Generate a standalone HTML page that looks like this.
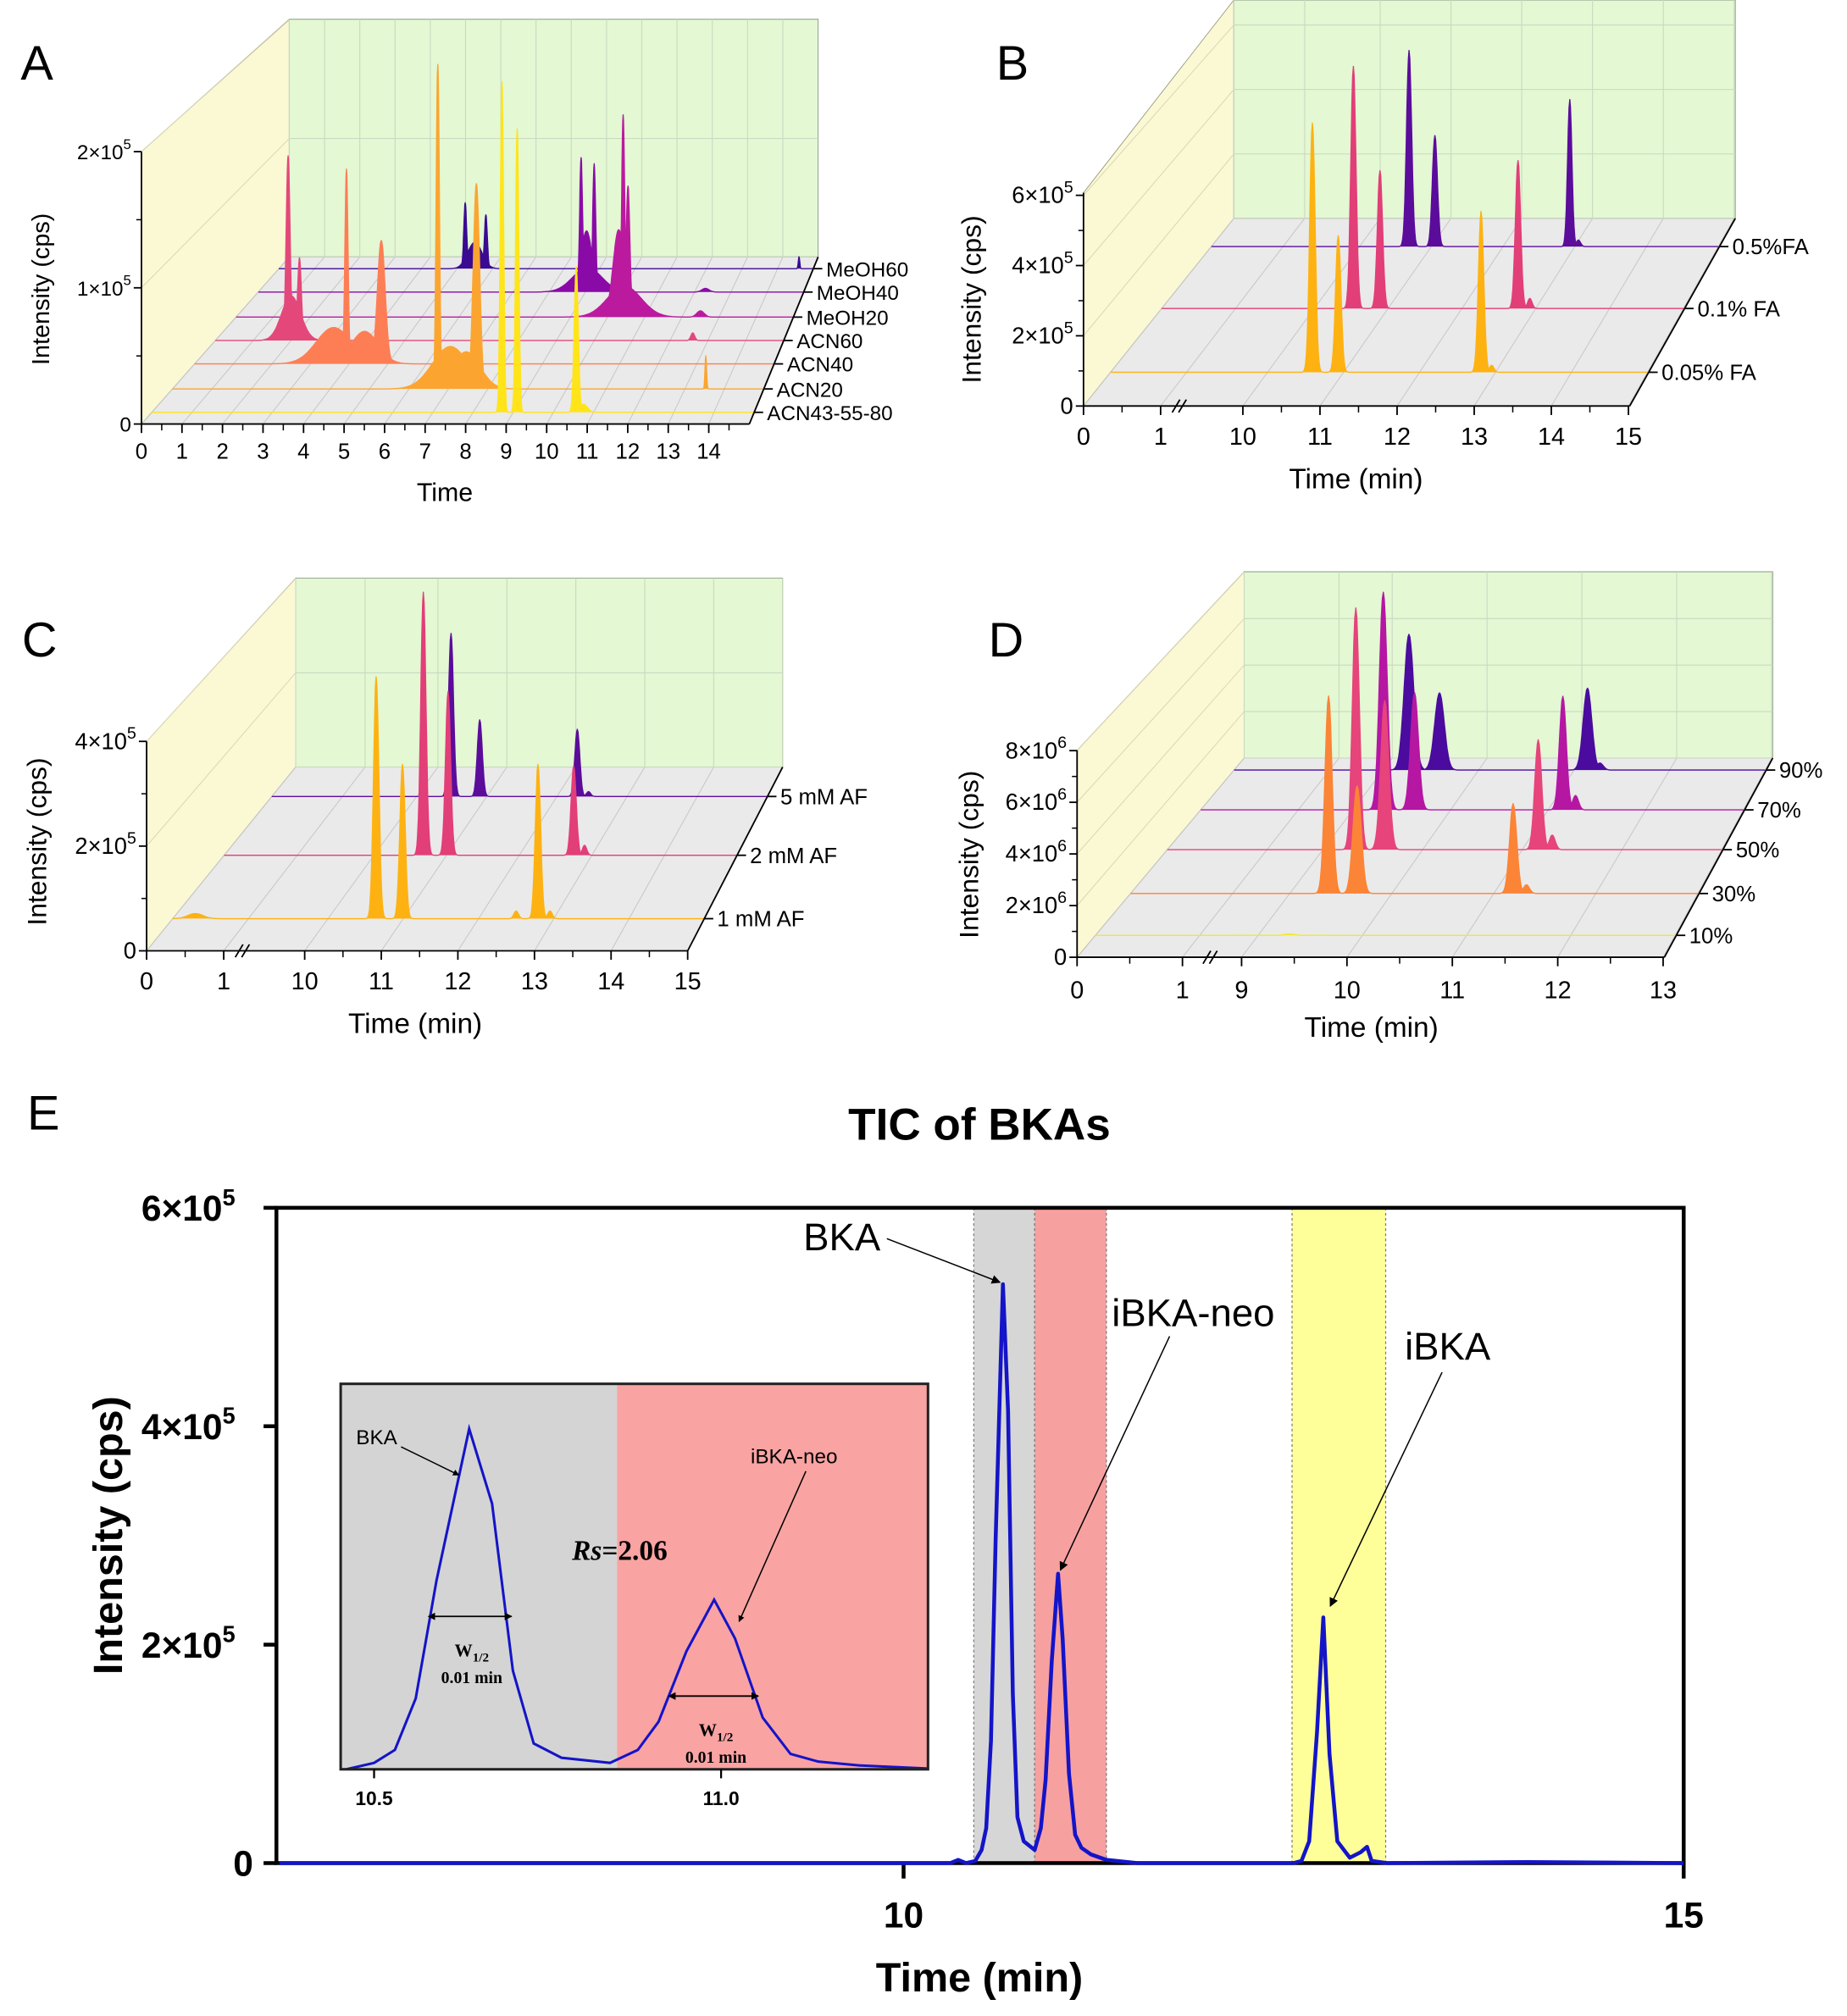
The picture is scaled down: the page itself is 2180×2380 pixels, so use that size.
<!DOCTYPE html>
<html><head><meta charset="utf-8"><style>
html,body{margin:0;padding:0;background:#fff;}
svg{display:block;}
text{font-family:"Liberation Sans",sans-serif;}
.serif{font-family:"Liberation Serif",serif;}
</style></head><body>
<svg id="fig" xmlns="http://www.w3.org/2000/svg" width="2180" height="2380" viewBox="0 0 1437 1569">
<defs>
<marker id="ah" viewBox="0 0 10 10" refX="9" refY="5" markerWidth="7" markerHeight="7" orient="auto"><path d="M0,0 L10,5 L0,10 z" fill="#000"/></marker>
<marker id="ahs" viewBox="0 0 10 10" refX="9" refY="5" markerWidth="5" markerHeight="5" orient="auto"><path d="M0,0 L10,5 L0,10 z" fill="#000"/></marker>
<marker id="ahd" viewBox="0 0 10 10" refX="1" refY="5" markerWidth="5" markerHeight="5" orient="auto-start-reverse"><path d="M0,0 L10,5 L0,10 z" fill="#000"/></marker>
<clipPath id="insetClip"><rect x="265" y="1077" width="457" height="300"/></clipPath>
</defs>
<text x="16" y="62" font-size="38">A</text>
<text x="775" y="62" font-size="38">B</text>
<text x="17" y="511" font-size="38">C</text>
<text x="769" y="511" font-size="38">D</text>
<text x="21" y="879" font-size="38">E</text>
<g id="panelE"></g>
</svg>
<script>
// ---------- Panel A data ----------
const aNames=["ACN43-55-80","ACN20","ACN40","ACN60","MeOH20","MeOH40","MeOH60"];
const aDepths=[0.07,0.21,0.36,0.5,0.64,0.79,0.93];
const aColors=["#FFE41A","#FBA530","#FD7E55","#E4487A","#BB1A9E","#8A0AA8","#3A0A92"];
const aPeakT=[[8.72,9.1,10.57,10.75],[6.73,7.71,7.05,7.45,13.53],[3.93,4.83,3.6,4.4],[1.92,2.22,2.0,12.6],[10.42,10.55,10.3,10.45,12.5],[8.88,9.24,9.03,9.05,12.3],[5.23,5.52,5.81,5.5,14.6]];
const aPeakH=[[2.45,2.1,1.08,0.06],[2.45,1.55,0.32,0.28,0.25],[1.5,0.95,0.28,0.25],[1.45,0.65,0.35,0.06],[1.62,1.05,0.7,0.25,0.05],[1.1,1.05,0.5,0.2,0.03],[0.55,0.35,0.45,0.22,0.1]];
const aPeakW=[[0.04,0.04,0.05,0.1],[0.04,0.08,0.45,0.35,0.02],[0.04,0.1,0.45,0.35],[0.05,0.05,0.25,0.05],[0.04,0.05,0.15,0.45,0.1],[0.04,0.04,0.15,0.4,0.1],[0.04,0.04,0.04,0.2,0.02]];
const aXTicks=[0,1,2,3,4,5,6,7,8,9,10,11,12,13,14];
const aYTicks=[0,1,2];
const aYLabels=["0","1\u00d710","2\u00d710"];
// ---------- Panel B data ----------
const bNames=["0.05% FA","0.1% FA","0.5%FA"];
const bDepths=[0.18,0.52,0.85];
const bColors=["#FDB212","#E23E78","#5B0C9B"];
const bPeakT=[[10.59,10.93,12.81,12.95],[10.53,10.89,12.76,12.92],[10.69,11.05,12.93,13.05]];
const bPeakH=[[7.2,3.95,4.65,0.2],[7.2,4.1,4.4,0.3],[6.0,3.4,4.5,0.2]];
const bPeakW=[[0.035,0.035,0.035,0.03],[0.035,0.035,0.035,0.03],[0.035,0.035,0.03,0.03]];
const bXTicks=[0,1,10,11,12,13,14,15];
const bYTicks=[0,2,4,6];
const bYLabels=["0","2\u00d710","4\u00d710","6\u00d710"];
// ---------- Panel C data ----------
const cNames=["1 mM AF","2 mM AF","5 mM AF"];
const cDepths=[0.175,0.52,0.84];
const cColors=["#FDB212","#E23E78","#5B0C9B"];
const cPeakT=[[10.64,10.99,12.79,12.5,12.95,0.3],[10.68,11.02,12.75,12.9],[10.49,10.9,12.29,12.45]];
const cPeakH=[[4.7,3.0,3.0,0.15,0.15,0.1],[5.3,3.3,1.8,0.2],[3.4,1.6,1.4,0.1]];
const cPeakW=[[0.035,0.035,0.035,0.03,0.03,0.1],[0.035,0.035,0.035,0.03],[0.035,0.035,0.035,0.03]];
const cXTicks=[0,1,10,11,12,13,14,15];
const cYTicks=[0,2,4];
const cYLabels=["0","2\u00d710","4\u00d710"];
// ---------- Panel D data ----------
const dNames=["10%","30%","50%","70%","90%"];
const dDepths=[0.11,0.32,0.54,0.74,0.94];
const dColors=["#F3E82A","#FB8436","#E6447A","#B517A3","#4A0B9E"];
const dPeakT=[[9.3],[9.38,9.66,11.19,11.32],[9.33,9.62,11.16,11.3],[9.31,9.63,11.15,11.28],[9.27,9.59,11.14,11.27]];
const dPeakH=[[0.05],[7.9,4.3,3.6,0.35],[9.9,6.1,4.5,0.6],[9.1,4.9,4.75,0.6],[5.8,3.3,3.5,0.3]];
const dPeakW=[[0.05],[0.035,0.04,0.035,0.03],[0.035,0.04,0.035,0.03],[0.04,0.04,0.035,0.03],[0.05,0.05,0.045,0.035]];
const dXTicks=[0,1,9,10,11,12,13];
const dYTicks=[0,2,4,6,8];
const dYLabels=["0","2\u00d710","4\u00d710","6\u00d710","8\u00d710"];
// ---------- Panel E data ----------
const eTimes=[6,7,8,9,10,10.3,10.35,10.4,10.46,10.5,10.53,10.56,10.59,10.637,10.67,10.70,10.73,10.77,10.84,10.88,10.91,10.95,10.99,11.02,11.06,11.10,11.14,11.2,11.3,11.5,12,12.5,12.55,12.6,12.65,12.69,12.73,12.78,12.86,12.93,12.97,13.0,13.1,14,15];
const eValues=[0,0,0,0,0,0,3000,0,2000,12000,32000,112000,295000,530000,414000,155000,42000,20000,12000,32000,76000,185000,265000,205000,82000,26000,14000,8000,3000,0,0,0,2000,20000,120000,225000,100000,20000,5000,10000,15000,2000,0,1000,0];
const eYTicks=[0,200000,400000,600000];
const eYLabels=["0","2\u00d710","4\u00d710","6\u00d710"];
const eXTicks=[10,15];
const eBands=[[10.45,10.84],[10.84,11.30],[12.49,13.09]];
const eBandColors=["#D6D6D6","#F7A0A0","#FFFF99"];

const NS='http://www.w3.org/2000/svg';
const svg=document.getElementById('fig');
function mk(tag,attrs,parent,text){const el=document.createElementNS(NS,tag);for(const k in attrs)el.setAttribute(k,attrs[k]);if(text!==undefined)el.textContent=text;(parent||svg).appendChild(el);return el;}
function named(el,nm,inter){
  
  
  return el;
}
function pts(a){return a.map(p=>p[0].toFixed(1)+','+p[1].toFixed(1)).join(' ');}

function draw3D(cfg,names,depths,colors,pT,pH,pW,xTicks,yTicks,yLabels,prefix){
  const g=named(mk('g',{}),prefix+'-chart');
  const {ox,oy,W,dx,dy,s}=cfg;
  const P=(t,d,h)=>{const k=1-d*(1-s);return [ox+d*dx+cfg.tmap(t)*k, oy+d*dy-h*cfg.yPx*k];};
  const bl=[ox+dx,oy+dy], br=[ox+dx+W*s,oy+dy];
  named(mk('polygon',{points:pts([[ox,oy],[ox,cfg.yTop],[bl[0],cfg.gTop],bl]),fill:'#FBF8D4',stroke:'#9a9a80','stroke-width':0.6},g),prefix+'-left-wall');
  named(mk('polygon',{points:pts([bl,br,[br[0],cfg.gTop],[bl[0],cfg.gTop]]),fill:'#E3F8D3',stroke:'#8a9a80','stroke-width':0.6},g),prefix+'-back-wall');
  named(mk('polygon',{points:pts([[ox,oy],[ox+W,oy],br,bl]),fill:'#EAEAEA',stroke:'#999','stroke-width':0.6},g),prefix+'-floor');
  xTicks.forEach(t=>{const a=P(t,0,0),b=P(t,1,0);
    named(mk('line',{x1:a[0],y1:a[1],x2:b[0],y2:b[1],stroke:'#c8c8c8','stroke-width':0.7},g),prefix+'-floor-grid');
    named(mk('line',{x1:b[0],y1:b[1],x2:b[0],y2:cfg.gTop,stroke:'#c9d8c0','stroke-width':0.7},g),prefix+'-wall-grid');});
  yTicks.forEach(v=>{const a=P(0,1,v);if(a[1]>cfg.gTop+2)named(mk('line',{x1:bl[0],y1:a[1],x2:br[0],y2:a[1],stroke:'#c9d8c0','stroke-width':0.7},g),prefix+'-wall-hgrid');
    const f=P(0,0,v);if(v>0)named(mk('line',{x1:ox,y1:f[1],x2:bl[0],y2:a[1],stroke:'#dcd8b8','stroke-width':0.7},g),prefix+'-side-grid');});
  const order=depths.map((d,i)=>i).sort((a,b)=>depths[b]-depths[a]);
  order.forEach(i=>{
    const d=depths[i];const arr=[];
    cfg.segs.forEach(sg=>{const n=Math.round((sg[1]-sg[0])/0.01);for(let q=0;q<=n;q++){const t=sg[0]+q*0.01;let v=0;for(let j=0;j<pT[i].length;j++){const z=(t-pT[i][j])/pW[i][j];v=Math.max(v,pH[i][j]*Math.exp(-0.5*z*z));}arr.push(P(t,d,v));}});
    const nm=prefix+'-series-'+names[i].replace(/[^A-Za-z0-9]+/g,'-').toLowerCase();
    named(mk('polygon',{points:pts(arr),fill:colors[i],stroke:'none'},g),nm);
    named(mk('polyline',{points:pts(arr),fill:'none',stroke:colors[i],'stroke-width':0.9,'stroke-linejoin':'round'},g),nm+'-line');
  });
  named(mk('line',{x1:ox,y1:oy,x2:ox+W,y2:oy,stroke:'#000','stroke-width':1.2},g),prefix+'-x-axis');
  named(mk('line',{x1:ox,y1:oy,x2:ox,y2:cfg.yTop,stroke:'#000','stroke-width':1.2},g),prefix+'-y-axis');
  xTicks.forEach(t=>{const x=ox+cfg.tmap(t);
    named(mk('line',{x1:x,y1:oy,x2:x,y2:oy+7,stroke:'#000','stroke-width':1.2},g),prefix+'-x-tick');
    named(mk('text',{x:x,y:oy+cfg.tickDy,'font-size':cfg.fs,'text-anchor':'middle'},g,String(t)),prefix+'-x-tick-label');});
  (cfg.minor||[]).forEach(t=>{const x=ox+cfg.tmap(t);named(mk('line',{x1:x,y1:oy,x2:x,y2:oy+5,stroke:'#000','stroke-width':1},g),prefix+'-x-minor-tick');});
  if(cfg.brk){const x=ox+cfg.brk;for(const o of [-3,2])named(mk('line',{x1:x+o-3,y1:oy+5,x2:x+o+3,y2:oy-5,stroke:'#000','stroke-width':1.2},g),prefix+'-axis-break');}
  yTicks.forEach((v,i)=>{const y=oy-v*cfg.yPx;
    named(mk('line',{x1:ox-6,y1:y,x2:ox,y2:y,stroke:'#000','stroke-width':1.2},g),prefix+'-y-tick');
    const tx=named(mk('text',{x:ox-8,y:y+6,'font-size':cfg.fs-1,'text-anchor':'end'},g),prefix+'-y-tick-label');
    if(v===0){tx.textContent='0';}else{mk('tspan',{},tx,yLabels[i]);mk('tspan',{dy:-8,'font-size':cfg.fs-6},tx,cfg.exp);}
    if(i<yTicks.length-1){const y2=oy-(v+(yTicks[1]-yTicks[0])/2)*cfg.yPx;named(mk('line',{x1:ox-4,y1:y2,x2:ox,y2:y2,stroke:'#000','stroke-width':1},g),prefix+'-y-minor-tick');}
  });
  named(mk('line',{x1:ox+W,y1:oy,x2:br[0],y2:br[1],stroke:'#000','stroke-width':1.2},g),prefix+'-depth-axis');
  depths.forEach((d,i)=>{const p=[ox+W+d*(br[0]-ox-W),oy+d*(br[1]-oy)];
    named(mk('line',{x1:p[0],y1:p[1],x2:p[0]+7,y2:p[1],stroke:'#000','stroke-width':1.2},g),prefix+'-depth-tick');
    named(mk('text',{x:p[0]+10,y:p[1]+6,'font-size':cfg.dfs},g,names[i]),prefix+'-depth-label');});
  named(mk('text',{x:cfg.xtX,y:cfg.xtY,'font-size':cfg.fs+3,'text-anchor':'middle'},g,cfg.xTitle),prefix+'-x-axis-title');
  named(mk('text',{x:0,y:0,'font-size':cfg.fs+2,'text-anchor':'middle',transform:`translate(${cfg.ytX},${cfg.ytY}) rotate(-90)`},g,'Intensity (cps)'),prefix+'-y-axis-title');
}

draw3D({ox:110,oy:330,W:473,dx:115,dy:-130,s:0.87,tmap:t=>t*31.53,segs:[[0,15]],yPx:106,yTop:118,gTop:15,fs:17,dfs:16,tickDy:27,exp:'5',
  minor:[0.5,1.5,2.5,3.5,4.5,5.5,6.5,7.5,8.5,9.5,10.5,11.5,12.5,13.5,14.5],xTitle:'Time',xtX:346,xtY:390,ytX:38,ytY:225},
  aNames,aDepths,aColors,aPeakT,aPeakH,aPeakW,aXTicks,aYTicks,aYLabels,'panel-a');
draw3D({ox:843,oy:316,W:425,dx:117,dy:-146,s:0.918,tmap:t=>t<=1?t*60:124+(t-10)*60,segs:[[0,1],[10,15]],yPx:27.33,yTop:150,gTop:0,fs:19,dfs:17,tickDy:30,exp:'5',brk:75,
  minor:[0.5,10.5,11.5,12.5,13.5,14.5],xTitle:'Time (min)',xtX:1055,xtY:380,ytX:763,ytY:233},
  bNames,bDepths,bColors,bPeakT,bPeakH,bPeakW,bXTicks,bYTicks,bYLabels,'panel-b');
draw3D({ox:114,oy:740,W:421,dx:116,dy:-143,s:0.9,tmap:t=>t<=1?t*60:123+(t-10)*59.6,segs:[[0,1],[10,15]],yPx:40.75,yTop:577,gTop:450,fs:19,dfs:17,tickDy:30,exp:'5',brk:75,
  minor:[0.5,10.5,11.5,12.5,13.5,14.5],xTitle:'Time (min)',xtX:323,xtY:804,ytX:36,ytY:655},
  cNames,cDepths,cColors,cPeakT,cPeakH,cPeakW,cXTicks,cYTicks,cYLabels,'panel-c');
draw3D({ox:838,oy:745,W:457,dx:130,dy:-155,s:0.9,tmap:t=>t<=1?t*82:128+(t-9)*82,segs:[[0,1],[9,13]],yPx:20.1,yTop:584,gTop:445,fs:19,dfs:17,tickDy:32,exp:'6',brk:104,
  minor:[0.5,9.5,10.5,11.5,12.5],xTitle:'Time (min)',xtX:1067,xtY:807,ytX:761,ytY:665},
  dNames,dDepths,dColors,dPeakT,dPeakH,dPeakW,dXTicks,dYTicks,dYLabels,'panel-d');

// ---------- Panel E ----------
const gE=document.getElementById('panelE');
const xE=t=>703+(t-10)*121.4, yE=v=>1450-v/600000*510;
const xI=t=>291+(t-10.5)*540, yI=v=>1378-v*266/530000;
eBands.forEach((b,i)=>{
  named(mk('rect',{x:xE(b[0]),y:940,width:xE(b[1])-xE(b[0]),height:510,fill:eBandColors[i]},gE),'peak-band');
  for(const t of b)named(mk('line',{x1:xE(t),y1:940,x2:xE(t),y2:1450,stroke:'#777','stroke-width':0.8,'stroke-dasharray':'2,2'},gE),'band-edge');
});
named(mk('rect',{x:215,y:940,width:1095,height:510,fill:'none',stroke:'#000','stroke-width':3},gE),'plot-frame');
eYTicks.forEach((v,i)=>{const y=yE(v);
  named(mk('line',{x1:205,y1:y,x2:215,y2:y,stroke:'#000','stroke-width':3},gE),'y-tick');
  const tx=named(mk('text',{x:v===0?197:183,y:y+10,'font-size':28,'font-weight':'bold','text-anchor':'end'},gE),'y-tick-label');
  tx.textContent=eYLabels[i];
  if(v!==0)mk('tspan',{dy:-12,'font-size':18},tx,'5');
});
eXTicks.forEach(t=>{named(mk('line',{x1:xE(t),y1:1450,x2:xE(t),y2:1462,stroke:'#000','stroke-width':3},gE),'x-tick');
  named(mk('text',{x:xE(t),y:1500,'font-size':28,'font-weight':'bold','text-anchor':'middle'},gE,String(t)),'x-tick-label');});
named(mk('polyline',{points:pts(eTimes.map((t,i)=>[xE(t),yE(eValues[i])])),fill:'none',stroke:'#1414C8','stroke-width':3,'stroke-linejoin':'round'},gE),'tic-line');
named(mk('text',{x:762,y:887,'font-size':35,'font-weight':'bold','text-anchor':'middle'},gE,'TIC of BKAs'),'chart-title');
named(mk('text',{x:762,y:1550,'font-size':32,'font-weight':'bold','text-anchor':'middle'},gE,'Time (min)'),'x-axis-title');
named(mk('text',{x:0,y:0,'font-size':32,'font-weight':'bold','text-anchor':'middle',transform:'translate(95,1195) rotate(-90)'},gE,'Intensity (cps)'),'y-axis-title');
named(mk('text',{x:625,y:973,'font-size':30},gE,'BKA'),'annotation-bka');
named(mk('line',{x1:690,y1:964,x2:778,y2:998,stroke:'#000','stroke-width':1,'marker-end':'url(#ah)'},gE),'arrow-bka');
named(mk('text',{x:865,y:1032,'font-size':30},gE,'iBKA-neo'),'annotation-ibka-neo');
named(mk('line',{x1:910,y1:1040,x2:825,y2:1222,stroke:'#000','stroke-width':1,'marker-end':'url(#ah)'},gE),'arrow-ibka-neo');
named(mk('text',{x:1093,y:1058,'font-size':30},gE,'iBKA'),'annotation-ibka');
named(mk('line',{x1:1122,y1:1068,x2:1035,y2:1250,stroke:'#000','stroke-width':1,'marker-end':'url(#ah)'},gE),'arrow-ibka');
const gI=named(mk('g',{},gE),'inset-chart');
named(mk('rect',{x:265,y:1077,width:215,height:300,fill:'#D4D4D4'},gI),'inset-bka-band');
named(mk('rect',{x:480,y:1077,width:242,height:300,fill:'#F9A3A3'},gI),'inset-neo-band');
const iT=[],iV=[];eTimes.forEach((t,i)=>{if(t>=10.4&&t<=11.5){iT.push(t);iV.push(eValues[i]);}});
named(mk('polyline',{points:pts(iT.map((t,i)=>[xI(t),yI(iV[i])])),fill:'none',stroke:'#1414C8','stroke-width':2,'clip-path':'url(#insetClip)'},gI),'inset-line');
named(mk('rect',{x:265,y:1077,width:457,height:300,fill:'none',stroke:'#222','stroke-width':2},gI),'inset-frame');
[10.5,11.0].forEach(t=>{named(mk('line',{x1:xI(t),y1:1377,x2:xI(t),y2:1384,stroke:'#000','stroke-width':1.5},gI),'inset-x-tick');
  named(mk('text',{x:xI(t),y:1405,'font-size':15,'font-weight':'bold','text-anchor':'middle'},gI,t.toFixed(1)),'inset-x-tick-label');});
named(mk('text',{x:277,y:1124,'font-size':16},gI,'BKA'),'inset-label-bka');
named(mk('line',{x1:312,y1:1126,x2:357,y2:1148,stroke:'#000','stroke-width':1,'marker-end':'url(#ahs)'},gI),'inset-arrow-bka');
named(mk('text',{x:584,y:1139,'font-size':16},gI,'iBKA-neo'),'inset-label-ibka-neo');
named(mk('line',{x1:627,y1:1145,x2:575,y2:1262,stroke:'#000','stroke-width':1,'marker-end':'url(#ahs)'},gI),'inset-arrow-ibka-neo');
const rs=named(mk('text',{x:445,y:1214,'font-size':22,'font-weight':'bold','class':'serif'},gI),'resolution-label');
mk('tspan',{'font-style':'italic'},rs,'Rs');mk('tspan',{},rs,'=2.06');
[[338,398,1258,367],[525,590,1320,557]].forEach(a=>{
  named(mk('line',{x1:a[0],y1:a[2],x2:a[1],y2:a[2],stroke:'#000','stroke-width':1.2,'marker-start':'url(#ahd)','marker-end':'url(#ahs)'},gI),'half-width-arrow');
  const w=named(mk('text',{x:a[3],y:a[2]+31,'font-size':14,'font-weight':'bold','text-anchor':'middle','class':'serif'},gI),'half-width-label');
  w.textContent='W';mk('tspan',{dy:4,'font-size':10},w,'1/2');
  named(mk('text',{x:a[3],y:a[2]+52,'font-size':13,'font-weight':'bold','text-anchor':'middle','class':'serif'},gI,'0.01 min'),'half-width-value');
});
</script>
</body></html>
